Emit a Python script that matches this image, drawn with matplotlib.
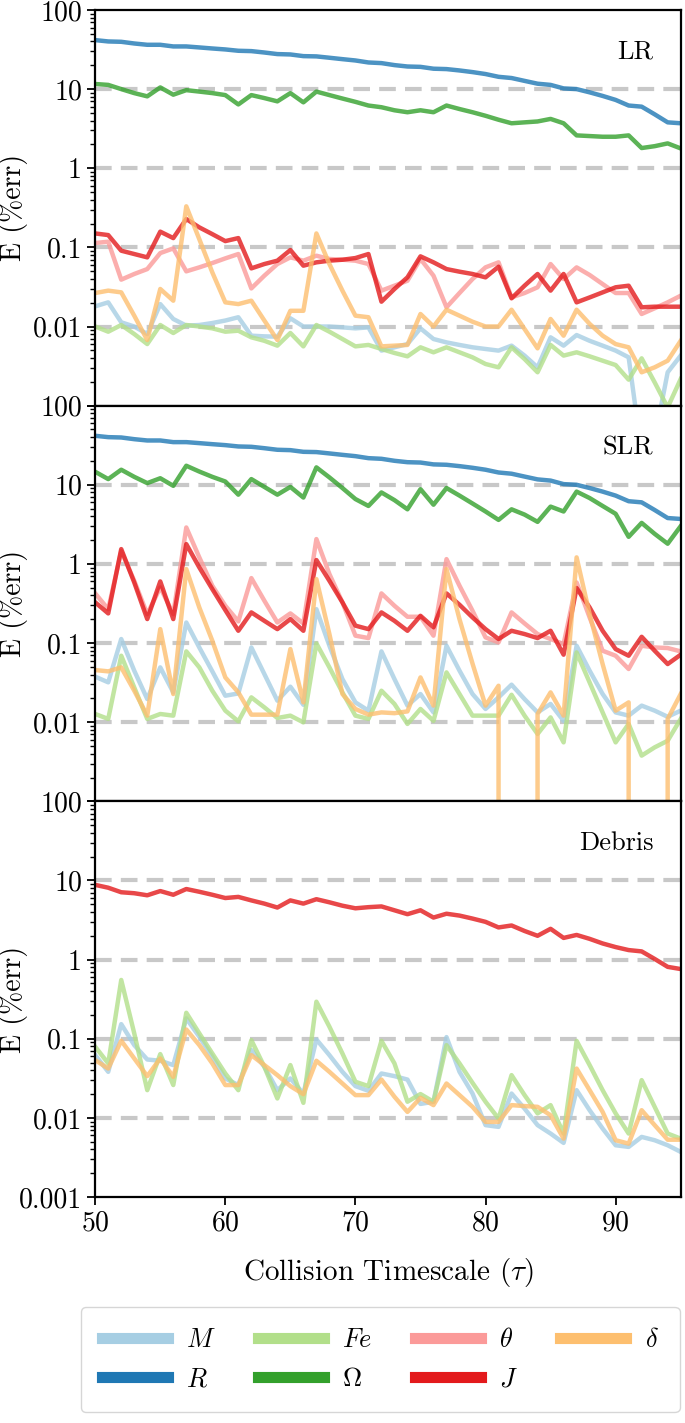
import numpy as np
import matplotlib
matplotlib.use("Agg")
import matplotlib.pyplot as plt
from matplotlib.lines import Line2D
from matplotlib.ticker import NullFormatter

plt.rcParams.update({
    "font.family": "serif",
    "font.serif": ["cmr10"],
    "mathtext.fontset": "cm",
    "axes.unicode_minus": False,
    "axes.formatter.use_mathtext": True,
})

# collision timescale, one point per unit
tau = np.arange(50, 96)

# ---- LR panel ----
LR_M = [0.0180, 0.0202, 0.0113, 0.0100, 0.00804, 0.0192, 0.01245, 0.01026, 0.01045, 0.01107,
        0.0119, 0.0131, 0.00766, 0.00751, 0.00744, 0.0127, 0.0100, 0.0100, 0.0100, 0.00975,
        0.00948, 0.00975, 0.00496, 0.00546, 0.0060, 0.00948, 0.00695, 0.0063, 0.00585, 0.00546,
        0.0052, 0.00496, 0.00573, 0.00429, 0.00305, 0.0073, 0.00573, 0.0078, 0.0066, 0.00573,
        0.00496, 0.00408, 0.00025, 0.00038, 0.00264, 0.00429]
R_vals = [41.6, 40.0, 39.6, 37.7, 36.3, 36.3, 34.6, 34.6, 33.6, 32.6,
          31.7, 30.5, 30.2, 29.0, 27.7, 27.4, 26.1, 25.9, 24.9, 23.9,
          23.0, 21.7, 21.3, 20.1, 19.3, 19.1, 18.1, 17.9, 17.2, 16.4,
          15.5, 14.3, 13.8, 12.7, 11.7, 11.3, 10.2, 10.0, 9.1, 8.2,
          7.3, 6.2, 6.0, 4.8, 3.8, 3.7]
LR_Fe = [0.0100, 0.0086, 0.01045, 0.00804, 0.0060, 0.01045, 0.00828, 0.01045, 0.0100, 0.00948,
         0.0086, 0.00885, 0.0073, 0.0066, 0.00573, 0.00828, 0.00561, 0.01045, 0.0086, 0.00695,
         0.00561, 0.00585, 0.0052, 0.00463, 0.0042, 0.00546, 0.00472, 0.00546, 0.00472, 0.00408,
         0.00336, 0.00305, 0.00546, 0.00388, 0.00264, 0.00585, 0.00429, 0.00472, 0.0042, 0.0037,
         0.00326, 0.00213, 0.00396, 0.00197, 0.00095, 0.00217]
LR_Omega = [11.6, 11.3, 10.0, 8.9, 8.1, 10.5, 8.5, 9.7, 9.3, 8.9,
            8.4, 6.4, 8.4, 7.7, 7.0, 8.9, 6.8, 9.3, 8.4, 7.6,
            6.9, 6.2, 5.9, 5.4, 5.1, 5.4, 5.1, 6.2, 5.6, 5.1,
            4.6, 4.1, 3.7, 3.8, 3.9, 4.2, 3.7, 2.6, 2.55, 2.5,
            2.5, 2.6, 1.8, 1.9, 2.06, 1.78]
LR_theta = [0.1135, 0.118, 0.0391, 0.0461, 0.0532, 0.0847, 0.0971, 0.0498, 0.0559, 0.0634,
            0.0726, 0.0824, 0.0303, 0.0439, 0.0616, 0.0748, 0.0679, 0.0785, 0.0713, 0.0698,
            0.0679, 0.0616, 0.0284, 0.0328, 0.0379, 0.0713, 0.0439, 0.0175, 0.0265, 0.0398,
            0.0559, 0.0647, 0.0233, 0.0265, 0.0313, 0.0616, 0.0398, 0.0559, 0.0448, 0.0344,
            0.0265, 0.0265, 0.0144, 0.0170, 0.0202, 0.0245]
LR_J = [0.150, 0.143, 0.0908, 0.0824, 0.0748, 0.158, 0.131, 0.228, 0.179, 0.147,
        0.120, 0.131, 0.0543, 0.0616, 0.0679, 0.0925, 0.0587, 0.0647, 0.0679, 0.0698,
        0.0733, 0.0824, 0.0206, 0.0298, 0.0418, 0.0770, 0.0647, 0.0532, 0.0493, 0.0461,
        0.0418, 0.0570, 0.0227, 0.0328, 0.0461, 0.0284, 0.0461, 0.0202, 0.0233, 0.0270,
        0.0313, 0.0328, 0.0175, 0.0178, 0.0178, 0.0178]
LR_delta = [0.0265, 0.0284, 0.0270, 0.0137, 0.00675, 0.0298, 0.0212, 0.330, 0.127, 0.0483,
            0.0202, 0.0192, 0.0212, 0.0119, 0.00675, 0.0158, 0.0158, 0.150, 0.0616, 0.0284,
            0.0137, 0.0131, 0.00561, 0.00573, 0.00585, 0.0144, 0.0100, 0.0163, 0.0137, 0.0115,
            0.0100, 0.0100, 0.0163, 0.0093, 0.0053, 0.01245, 0.00766, 0.0163, 0.0108, 0.00766,
            0.0060, 0.00546, 0.00264, 0.00305, 0.0037, 0.0066]

# ---- SLR panel ----
SLR_M = [0.0376, 0.0319, 0.1125, 0.0448, 0.0196, 0.0493, 0.0238, 0.182, 0.088, 0.0439,
         0.0216, 0.0231, 0.088, 0.0406, 0.0187, 0.0281, 0.0166, 0.268, 0.0925, 0.0351,
         0.0178, 0.014, 0.0785, 0.0351, 0.0162, 0.0227, 0.0133, 0.0925, 0.0448, 0.0227,
         0.0147, 0.0206, 0.0298, 0.0196, 0.0133, 0.017, 0.0104, 0.0925, 0.0448, 0.0227,
         0.0133, 0.0121, 0.0162, 0.014, 0.0117, 0.014]
SLR_Fe = [0.0127, 0.011, 0.0692, 0.0275, 0.011, 0.0127, 0.0121, 0.0785, 0.0493, 0.025,
          0.014, 0.01026, 0.0206, 0.0154, 0.0113, 0.0121, 0.00995, 0.099, 0.0493, 0.0238,
          0.0121, 0.011, 0.025, 0.017, 0.0095, 0.0147, 0.0104, 0.0426, 0.0227, 0.0121,
          0.0121, 0.0121, 0.0222, 0.0121, 0.0071, 0.0115, 0.00556, 0.0762, 0.0318, 0.0133,
          0.00556, 0.0095, 0.00378, 0.00481, 0.00583, 0.011]
SLR_Omega = [14.6, 11.8, 15.5, 12.6, 10.5, 12.1, 9.7, 17.4, 14.7, 12.6,
             11.0, 7.5, 11.8, 9.4, 7.5, 9.4, 6.9, 16.6, 12.4, 9.1,
             6.6, 5.4, 8.0, 6.4, 4.9, 8.8, 5.6, 9.1, 7.3, 5.8,
             4.6, 3.6, 4.9, 4.2, 3.4, 5.3, 4.6, 8.2, 6.8, 5.4,
             4.3, 2.2, 3.3, 2.4, 1.8, 3.0]
SLR_theta = [0.424, 0.268, 1.45, 0.612, 0.232, 0.505, 0.232, 2.89, 1.21, 0.530,
             0.296, 0.188, 0.662, 0.343, 0.182, 0.237, 0.177, 2.06, 0.745, 0.327,
             0.124, 0.1157, 0.424, 0.296, 0.215, 0.215, 0.124, 1.15, 0.530, 0.256,
             0.118, 0.102, 0.244, 0.177, 0.130, 0.1125, 0.097, 0.583, 0.211, 0.080,
             0.0692, 0.047, 0.0925, 0.088, 0.0865, 0.0785]
SLR_J = [0.327, 0.237, 1.54, 0.583, 0.201, 0.601, 0.201, 1.78, 0.904, 0.481,
         0.261, 0.143, 0.244, 0.191, 0.150, 0.201, 0.143, 1.12, 0.612, 0.327,
         0.166, 0.150, 0.244, 0.191, 0.143, 0.221, 0.158, 0.424, 0.305, 0.211,
         0.150, 0.1125, 0.143, 0.130, 0.1157, 0.143, 0.0713, 0.496, 0.282, 0.143,
         0.0839, 0.0692, 0.120, 0.080, 0.0543, 0.0713]
SLR_delta = [0.0456, 0.0439, 0.0493, 0.0250, 0.0121, 0.150, 0.0227, 0.861, 0.282, 0.107,
             0.0368, 0.0238, 0.01245, 0.01245, 0.01245, 0.0839, 0.0178, 0.643, 0.130, 0.0227,
             0.0147, 0.01245, 0.0133, 0.0130, 0.0137, 0.0368, 0.0162, 0.861, 0.20, 0.055,
             0.0162, 0.0289, 0.0, 0.0, 0.0127, 0.0238, 0.0121, 1.21, 0.232, 0.0543,
             0.014, 0.0178, 0.0, 0.0, 0.011, 0.0227]

# ---- Debris panel ----
DEB_M = [0.0621, 0.0382, 0.153, 0.0832, 0.0547, 0.0527, 0.0465, 0.181, 0.106, 0.0592,
         0.0315, 0.026, 0.072, 0.0443, 0.0224, 0.0315, 0.0203, 0.098, 0.0621, 0.0382,
         0.0252, 0.022, 0.0364, 0.0337, 0.0305, 0.015, 0.016, 0.105, 0.0382, 0.0203,
         0.0081, 0.0077, 0.0203, 0.0131, 0.0081, 0.00634, 0.00483, 0.0224, 0.0125, 0.00733,
         0.00451, 0.0043, 0.00575, 0.00522, 0.00451, 0.00372]
DEB_Fe = [0.0793, 0.0488, 0.553, 0.117, 0.0224, 0.064, 0.026, 0.213, 0.117, 0.0652,
          0.0364, 0.0224, 0.096, 0.0443, 0.0176, 0.0465, 0.0155, 0.294, 0.142, 0.0652,
          0.0286, 0.0252, 0.094, 0.0488, 0.016, 0.020, 0.016, 0.083, 0.0488, 0.0277,
          0.016, 0.0098, 0.0347, 0.0194, 0.0114, 0.0145, 0.00634, 0.094, 0.0465, 0.0224,
          0.0114, 0.00634, 0.030, 0.0138, 0.00634, 0.00547]
DEB_J = [8.8, 8.1, 7.1, 6.9, 6.5, 7.35, 6.6, 7.8, 7.2, 6.6,
         6.0, 6.2, 5.6, 5.1, 4.55, 5.6, 5.1, 5.8, 5.3, 4.8,
         4.45, 4.6, 4.7, 4.2, 3.75, 4.2, 3.4, 3.8, 3.6, 3.3,
         3.0, 2.55, 2.7, 2.3, 2.0, 2.45, 1.88, 2.05, 1.83, 1.6,
         1.44, 1.32, 1.27, 1.02, 0.81, 0.76]
DEB_delta = [0.0537, 0.042, 0.0944, 0.0564, 0.0337, 0.0564, 0.033, 0.131, 0.0832, 0.0488,
             0.026, 0.026, 0.0621, 0.0465, 0.0347, 0.0252, 0.0199, 0.0527, 0.0382, 0.0272,
             0.0194, 0.0194, 0.0305, 0.0185, 0.0119, 0.0179, 0.0145, 0.0272, 0.0194, 0.0138,
             0.0089, 0.0089, 0.0145, 0.0141, 0.0138, 0.0108, 0.00547, 0.042, 0.0224, 0.0119,
             0.00522, 0.00473, 0.0125, 0.0081, 0.0053, 0.0053]

# series order follows the legend (Paired palette)
keys = ["M", "R", "Fe", "Omega", "theta", "J", "delta"]
labels = {"M": r"$M$", "R": r"$R$", "Fe": r"$Fe$", "Omega": r"$\Omega$",
          "theta": r"$\theta$", "J": r"$J$", "delta": r"$\delta$"}
colors = {"M": "#a6cee3", "R": "#1f78b4", "Fe": "#b2df8a", "Omega": "#33a02c",
          "theta": "#fb9a99", "J": "#e31a1c", "delta": "#fdbf6f"}

panels = [
    ("LR", {"M": LR_M, "R": R_vals, "Fe": LR_Fe, "Omega": LR_Omega,
            "theta": LR_theta, "J": LR_J, "delta": LR_delta}),
    ("SLR", {"M": SLR_M, "R": R_vals, "Fe": SLR_Fe, "Omega": SLR_Omega,
             "theta": SLR_theta, "J": SLR_J, "delta": SLR_delta}),
    ("Debris", {"M": DEB_M, "Fe": DEB_Fe, "J": DEB_J, "delta": DEB_delta}),
]

ytick_vals = [1e-3, 1e-2, 1e-1, 1, 10, 100]
ytick_text = ["0.001", "0.01", "0.1", "1", "10", "100"]
grid_levels = [1e-2, 1e-1, 1, 10]

fig, axes = plt.subplots(3, 1, figsize=(6.85, 14.23), dpi=100, sharex=True)
fig.subplots_adjust(left=0.139, right=0.9937, top=0.993, bottom=0.1588, hspace=0)

for i, (ax, (name, series)) in enumerate(zip(axes, panels)):
    ax.set_yscale("log")
    for lvl in grid_levels:
        ax.axhline(lvl, color="#c8c8c8", lw=3, ls=(0, (4, 2.2)), zorder=0)
    for k in keys:
        if k in series:
            ax.plot(tau, series[k], color=colors[k], lw=3.2, alpha=0.8, zorder=2)
    ax.set_ylim(1e-3, 1e2)
    ax.set_xlim(50, 95)
    ax.set_yticks(ytick_vals)
    if i < 2:
        ax.set_yticklabels([""] + ytick_text[1:])
        ax.tick_params(axis="x", bottom=False, labelbottom=False)
    else:
        ax.set_yticklabels(ytick_text)
    ax.yaxis.set_minor_formatter(NullFormatter())
    ax.tick_params(axis="y", which="major", direction="out", length=6, width=1.3, labelsize=20)
    ax.tick_params(axis="y", which="minor", direction="out", length=3.5, width=1.0)
    for sp in ax.spines.values():
        sp.set_linewidth(1.6)
    ax.set_ylabel("E (%err)", fontsize=20)
    ax.yaxis.set_label_coords(-0.115, 0.5)
    ax.text(0.953, 0.894, name, transform=ax.transAxes, ha="right", va="center", fontsize=19)

axes[-1].set_xticks([50, 60, 70, 80, 90])
axes[-1].tick_params(axis="x", direction="out", length=6, width=1.3, labelsize=20)
axes[-1].set_xlabel(r"Collision Timescale ($\tau$)", fontsize=21, labelpad=14)

handles = [Line2D([], [], color=colors[k], lw=8) for k in keys]
fig.legend(handles, [labels[k] for k in keys], loc="upper left",
           bbox_to_anchor=(0.118, 0.0021, 0.874, 0.0793), mode="expand", ncol=4,
           fontsize=19, handlelength=2.5, handletextpad=0.7, borderpad=0.8,
           labelspacing=0.58, borderaxespad=0)

fig.savefig("out.png", dpi=100)
